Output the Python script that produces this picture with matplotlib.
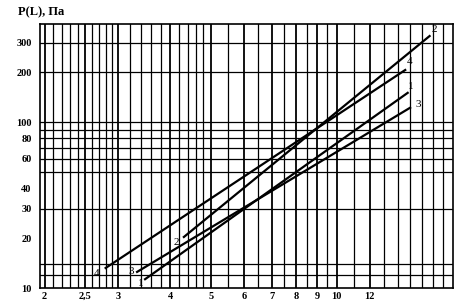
import matplotlib
matplotlib.use('Agg')
import matplotlib.pyplot as plt
from matplotlib.ticker import FixedLocator, FixedFormatter, NullLocator

# DATA
x_ticks = [2, 2.5, 3, 4, 5, 6, 7, 8, 9, 10, 12]
x_tick_labels = ['2', '2,5', '3', '4', '5', '6', '7', '8', '9', '10', '12']
y_ticks = [10, 20, 30, 40, 60, 80, 100, 200, 300]
y_tick_labels = ['10', '20', '30', '40', '60', '80', '100', '200', '300']

x_grid = [2.0, 2.1, 2.2, 2.3, 2.4, 2.5, 2.6, 2.7, 2.8, 2.9, 3.0,
          3.2, 3.4, 3.6, 3.8, 4.0, 4.2, 4.4, 4.6, 4.8, 5.0,
          5.5, 6, 6.5, 7, 7.5, 8, 8.5, 9, 9.5, 10,
          11, 12, 13, 14, 15, 16, 17, 18]
y_grid = [12, 14, 30, 50, 60, 70, 80, 90, 100, 200, 300]

names = ['1', '2', '3', '4']
x_start = [3.48, 4.31, 3.33, 2.80]
x_end = [14.8, 16.7, 15.0, 14.6]
y_start = [11.3, 20.3, 12.5, 13.2]
y_end = [150, 330, 122, 206]

# label offsets in pixels (start, end)
start_off = [(-4, -4), (-8, -6), (-6, 0), (-9, -6)]
end_off = [(3, 6), (5, 7), (8, 3), (4, 8)]

# PLOTTING
plt.rcParams['font.family'] = ['Liberation Serif', 'DejaVu Serif']
fig = plt.figure(figsize=(4.65, 3.06), dpi=100)
ax = fig.add_axes([40/465, 18/306, 413/465, 264/306])
ax.set_xscale('log')
ax.set_yscale('log')
ax.set_xlim(1.95, 19)
ax.set_ylim(10, 390)

for v in x_grid:
    lw = 1.3 if v in x_ticks else 0.9
    ax.axvline(v, color='black', linewidth=lw, zorder=1)
for v in y_grid:
    ax.axhline(v, color='black', linewidth=0.9, zorder=1)

for i, n in enumerate(names):
    ax.plot([x_start[i], x_end[i]], [y_start[i], y_end[i]], color='black',
            linewidth=1.6, zorder=3)
    ax.annotate(n, (x_start[i], y_start[i]), xytext=start_off[i],
                textcoords='offset pixels', ha='center', va='center',
                fontsize=8, zorder=4)
    ax.annotate(n, (x_end[i], y_end[i]), xytext=end_off[i],
                textcoords='offset pixels', ha='center', va='center',
                fontsize=8, zorder=4)

ax.xaxis.set_major_locator(FixedLocator(x_ticks))
ax.xaxis.set_major_formatter(FixedFormatter(x_tick_labels))
ax.xaxis.set_minor_locator(NullLocator())
ax.yaxis.set_major_locator(FixedLocator(y_ticks))
ax.yaxis.set_major_formatter(FixedFormatter(y_tick_labels))
ax.yaxis.set_minor_locator(NullLocator())
ax.tick_params(length=0, labelsize=7.5, pad=3)
ax.tick_params(axis='y', pad=6)
for lab in ax.get_xticklabels() + ax.get_yticklabels():
    lab.set_fontweight('bold')

for s in ax.spines.values():
    s.set_linewidth(1.2)

fig.text(18/465, 1 - 12/306, 'P(L), Па', fontsize=9, fontweight='bold',
         ha='left', va='center')

fig.savefig('out.png', dpi=100)
